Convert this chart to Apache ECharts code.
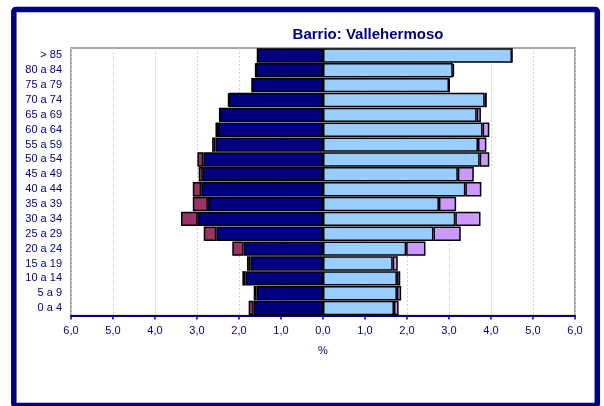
<!DOCTYPE html>
<html>
<head>
<meta charset="utf-8">
<script src="https://cdn.jsdelivr.net/npm/echarts@6/dist/echarts.min.js"></script>
<style>
  html, body { margin: 0; padding: 0; background: #fff; }
  #main { width: 604px; height: 406px; }
</style>
</head>
<body>
<div id="main"></div>
<script>
// grupos de edad (de abajo a arriba)
var ageGroups = ['0 a 4', '5 a 9', '10 a 14', '15 a 19', '20 a 24', '25 a 29', '30 a 34', '35 a 39',
  '40 a 44', '45 a 49', '50 a 54', '55 a 59', '60 a 64', '65 a 69', '70 a 74', '75 a 79', '80 a 84', '> 85'];

// hombres (%), se dibujan a la izquierda
var menSpanish = [1.65, 1.58, 1.85, 1.73, 1.89, 2.54, 2.98, 2.74, 2.90, 2.86, 2.85, 2.56, 2.50, 2.46, 2.24, 1.69, 1.60, 1.56];
var menForeign = [0.12, 0.07, 0.07, 0.08, 0.27, 0.30, 0.40, 0.36, 0.20, 0.10, 0.14, 0.08, 0.06, 0.00, 0.02, 0.00, 0.01, 0.00];

// mujeres (%), a la derecha
var womenSpanish = [1.69, 1.76, 1.76, 1.66, 1.98, 2.63, 3.15, 2.76, 3.39, 3.21, 3.73, 3.69, 3.80, 3.66, 3.85, 3.00, 3.09, 4.50];
var womenForeign = [0.11, 0.10, 0.08, 0.12, 0.46, 0.65, 0.60, 0.41, 0.38, 0.38, 0.23, 0.20, 0.16, 0.10, 0.05, 0.01, 0.03, 0.00];

var navy = '#000080';
var myChart = echarts.init(document.getElementById('main'));

var neg = function (arr) { return arr.map(function (v) { return -v; }); };

var barStyle = function (color) {
  return { color: color, borderColor: '#000', borderWidth: 1.5 };
};

var option = {
  animation: false,
  backgroundColor: '#fff',
  title: {
    text: 'Barrio: Vallehermoso',
    left: 363,
    top: 22,
    textAlign: 'center',
    textStyle: { color: navy, fontFamily: 'Liberation Sans, Arial', fontSize: 15, fontWeight: 'bold' }
  },
  graphic: [{
    type: 'rect',
    shape: { x: 13.8, y: 9.5, width: 583.5, height: 396, r: 2 },
    style: { fill: 'none', stroke: navy, lineWidth: 5.5 },
    z: 100
  }],
  grid: {
    left: 71, right: 29, top: 48, bottom: 90.5,
    show: true, borderColor: '#8c8c8c', borderWidth: 1.5, backgroundColor: '#fff'
  },
  xAxis: {
    type: 'value',
    min: -6, max: 6, interval: 1,
    name: '%',
    nameLocation: 'middle',
    nameGap: 30,
    nameTextStyle: { color: navy, fontFamily: 'Liberation Sans, Arial', fontSize: 11 },
    axisLine: { show: true, onZero: false, lineStyle: { color: navy, width: 2 } },
    axisTick: { show: true, length: 4, lineStyle: { color: navy, width: 1.5 } },
    axisLabel: {
      color: navy, fontFamily: 'Liberation Sans, Arial', fontSize: 11, margin: 10,
      formatter: function (v) { return Math.abs(v).toFixed(1).replace('.', ','); }
    },
    splitLine: { show: true, lineStyle: { color: '#d0d0d0', type: [2, 2], width: 1 } }
  },
  yAxis: {
    type: 'category',
    data: ageGroups,
    axisLine: { show: false },
    axisTick: { show: false },
    axisLabel: { color: navy, fontFamily: 'Liberation Sans, Arial', fontSize: 11, margin: 9 }
  },
  series: [
    { name: 'Hombres españoles', type: 'bar', stack: 'total', barCategoryGap: '3%',
      data: neg(menSpanish), itemStyle: barStyle('#000080') },
    { name: 'Hombres extranjeros', type: 'bar', stack: 'total',
      data: neg(menForeign), itemStyle: barStyle('#993366') },
    { name: 'Mujeres españolas', type: 'bar', stack: 'total',
      data: womenSpanish, itemStyle: barStyle('#99ccff') },
    { name: 'Mujeres extranjeras', type: 'bar', stack: 'total',
      data: womenForeign, itemStyle: barStyle('#cc99ff') }
  ]
};

myChart.setOption(option);
</script>
</body>
</html>
